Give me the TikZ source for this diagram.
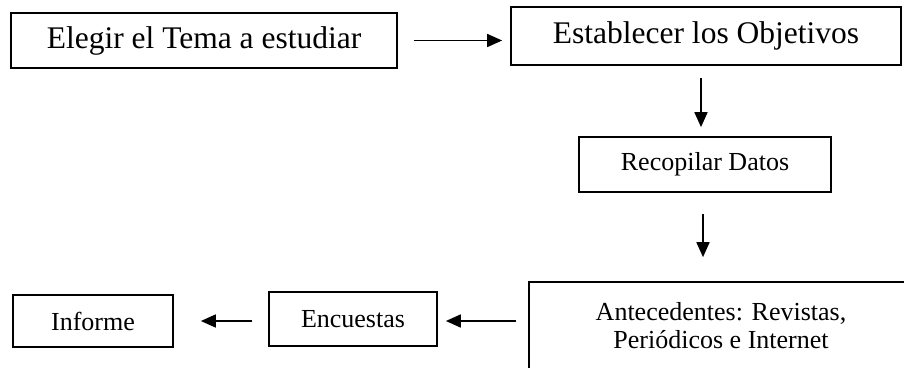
\documentclass[tikz,border=0pt]{standalone}
\usepackage{fontspec}
\setmainfont{Liberation Serif}
\usetikzlibrary{arrows.meta}
\begin{document}
\begin{tikzpicture}[x=1pt,y=-1pt,
  box/.style={draw,line width=1.7pt,rectangle,inner sep=0pt,align=center},
  big/.style={font=\fontsize{31.5}{36}\selectfont},
  small/.style={font=\fontsize{26}{28}\selectfont},
  arr/.style={line width=1.7pt,-{Triangle[length=15pt,width=13pt]}}]
\useasboundingbox (0,0) rectangle (904,367);
\clip (0,0) rectangle (904,367);
\node[box,big,minimum width=386,minimum height=55] (b1) at (204,40.5) {Elegir el Tema a estudiar};
\node[box,big,minimum width=390,minimum height=58] (b2) at (706,36) {Establecer los Objetivos};
\node[box,small,minimum width=252,minimum height=55] (b3) at (705,164.5) {Recopilar Datos};
\node[box,small,minimum width=384,minimum height=88] (b4) at (721,326) {Antecedentes: Revistas,\\Periódicos e Internet};
\node[box,small,minimum width=168,minimum height=54] (b5) at (353,319) {Encuestas};
\node[box,small,minimum width=160,minimum height=52] (b6) at (93,321) {Informe};
\draw[arr,shorten <=16pt,shorten >=8pt] (b1.east) -- (b1.east -| b2.west);
\draw[arr,shorten <=12pt,shorten >=9pt] ([xshift=-5pt]b2.south) -- ([xshift=-4pt]b3.north);
\draw[arr,shorten <=21pt,shorten >=24pt] ([xshift=-2pt]b3.south) -- ([xshift=-18pt]b4.north);
\draw[arr,shorten <=12pt,shorten >=8pt] ([yshift=-2pt]b5.east -| b4.west) -- ([yshift=-2pt]b5.east);
\draw[arr,shorten <=16pt,shorten >=27pt] ([yshift=-2pt]b5.west) -- ([yshift=-2pt]b5.west -| b6.east);
\end{tikzpicture}
\end{document}
